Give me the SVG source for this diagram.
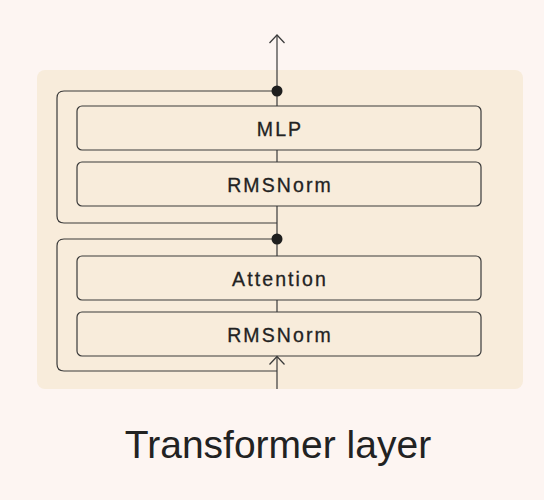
<svg xmlns="http://www.w3.org/2000/svg" width="544" height="500" viewBox="0 0 544 500">
<style>
.box{fill:none;stroke:#3a3a3a;stroke-width:1.2}
.lbl{font-family:"Liberation Sans",Arial,sans-serif;font-size:19.5px;letter-spacing:2.1px;fill:#222;stroke:#222;stroke-width:0.3;text-anchor:middle}
.ln{fill:none;stroke:#3a3a3a;stroke-width:1.2}
.dot{fill:#1e1e1e}
</style>
<defs>
<marker id="arr" viewBox="-9 -9 18 18" markerWidth="18" markerHeight="18" markerUnits="userSpaceOnUse" refX="0" refY="0" orient="auto">
<path d="M-8,-7.5 L0,0 L-8,7.5" fill="none" stroke="#3a3a3a" stroke-width="1.2"/>
</marker>
</defs>
<rect width="544" height="500" fill="#fdf5f2"/>
<rect id="panel" x="37" y="70" width="486" height="319" rx="8" fill="#f8ecdb"/>
<g id="connectors">
<path class="ln" d="M277,91 L277,35" marker-end="url(#arr)"/>
<path class="ln" d="M277,91 L277,106"/>
<path class="ln" d="M277,150 L277,162"/>
<path class="ln" d="M277,206 L277,256"/>
<path class="ln" d="M277,300 L277,312"/>
<path class="ln" d="M277,389 L277,356.5" marker-end="url(#arr)"/>
<path class="ln" d="M277,91 L64,91 Q57,91 57,98 L57,216 Q57,223 64,223 L277,223"/>
<path class="ln" d="M277,239 L64,239 Q57,239 57,246 L57,364 Q57,371 64,371 L277,371"/>
<circle class="dot" cx="277" cy="91" r="5.5"/>
<circle class="dot" cx="277" cy="239" r="5.5"/>
</g>
<g id="mlp"><rect class="box" x="77" y="106" width="404" height="44" rx="5"/><text class="lbl" x="280" y="135.5">MLP</text></g>
<g id="rmsnorm1"><rect class="box" x="77" y="162" width="404" height="44" rx="5"/><text class="lbl" x="280" y="191.5">RMSNorm</text></g>
<g id="attention"><rect class="box" x="77" y="256" width="404" height="44" rx="5"/><text class="lbl" x="280" y="286">Attention</text></g>
<g id="rmsnorm2"><rect class="box" x="77" y="312" width="404" height="44" rx="5"/><text class="lbl" x="280" y="341.5">RMSNorm</text></g>
<text id="title" x="278" y="458" font-family="Liberation Sans,Arial,sans-serif" font-size="39" fill="#222" text-anchor="middle">Transformer layer</text>
</svg>
